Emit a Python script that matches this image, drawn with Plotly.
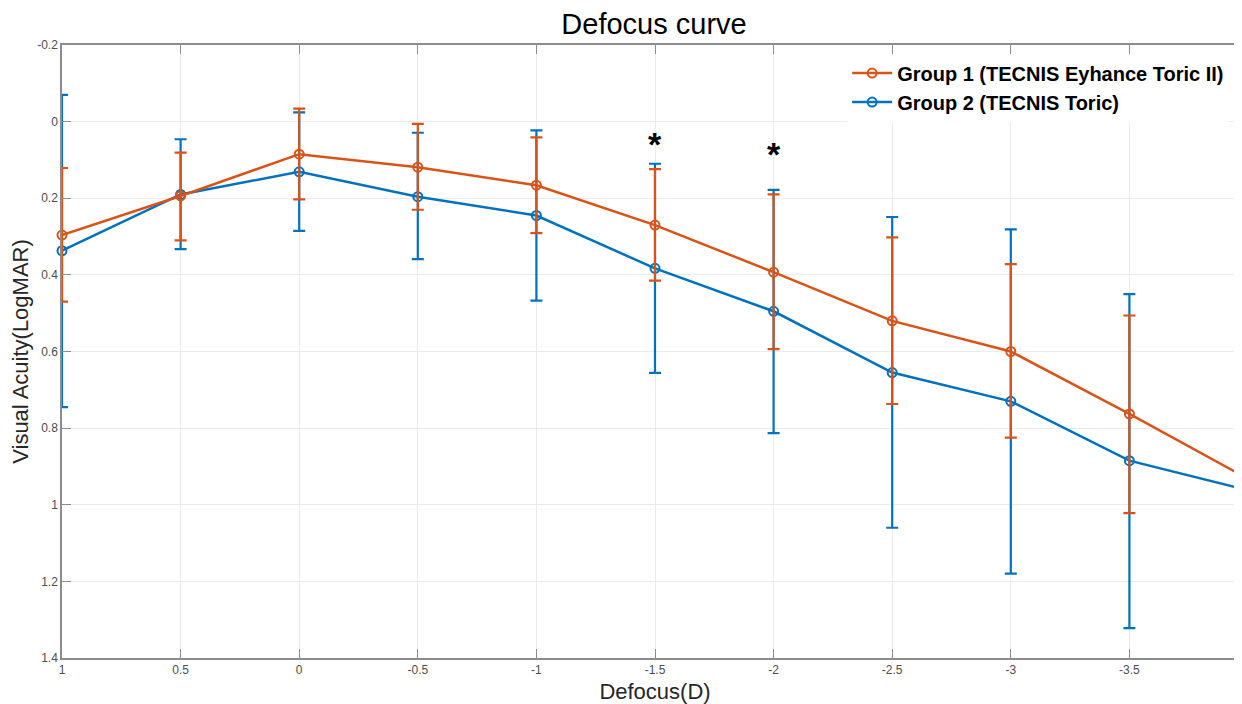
import plotly.graph_objects as go

# Data
defocus = [1, 0.5, 0, -0.5, -1, -1.5, -2, -2.5, -3, -3.5, -4]
g1_mean = [0.296, 0.194, 0.085, 0.119, 0.166, 0.270, 0.393, 0.520, 0.600, 0.763, 0.932]
g1_upper = [0.121, 0.081, -0.034, 0.006, 0.041, 0.124, 0.190, 0.302, 0.372, 0.506, 0.49]
g1_lower = [0.470, 0.310, 0.203, 0.230, 0.291, 0.415, 0.594, 0.737, 0.825, 1.022, 1.30]
g2_mean = [0.337, 0.190, 0.131, 0.196, 0.245, 0.383, 0.495, 0.655, 0.730, 0.885, 0.962]
g2_upper = [-0.070, 0.046, -0.024, 0.029, 0.023, 0.110, 0.178, 0.249, 0.281, 0.450, 0.30]
g2_lower = [0.745, 0.333, 0.285, 0.359, 0.467, 0.656, 0.813, 1.060, 1.180, 1.322, 1.335]

x_tickvals = [1, 0.5, 0, -0.5, -1, -1.5, -2, -2.5, -3, -3.5]
x_ticktext = ["1", "0.5", "0", "-0.5", "-1", "-1.5", "-2", "-2.5", "-3", "-3.5"]
y_tickvals = [-0.2, 0, 0.2, 0.4, 0.6, 0.8, 1.0, 1.2, 1.4]
y_ticktext = ["-0.2", "0", "0.2", "0.4", "0.6", "0.8", "1", "1.2", "1.4"]

sig_x = [-1.5, -2]
sig_y = [0.058, 0.084]

ORANGE = "#D95319"
BLUE = "#0072BD"
FONT = "Liberation Sans, Arial, sans-serif"


def err(mean, upper, lower):
    plus = [lo - m for m, lo in zip(mean, lower)]
    minus = [m - up for m, up in zip(mean, upper)]
    return plus, minus


fig = go.Figure()

for name, mean, up, lo, col, rank in [
    ("<b>Group 2 (TECNIS Toric)</b>", g2_mean, g2_upper, g2_lower, BLUE, 2),
    ("<b>Group 1 (TECNIS Eyhance Toric II)</b>", g1_mean, g1_upper, g1_lower, ORANGE, 1),
]:
    plus, minus = err(mean, up, lo)
    fig.add_trace(go.Scatter(
        x=defocus, y=mean, name=name, mode="lines+markers",
        line=dict(color=col, width=2.5),
        marker=dict(symbol="circle-open", size=9, color=col, line=dict(width=2, color=col)),
        error_y=dict(type="data", symmetric=False, array=plus, arrayminus=minus,
                     color=col, thickness=2.2, width=6),
        cliponaxis=False,
        legendrank=rank,
    ))

for sx, sy in zip(sig_x, sig_y):
    fig.add_annotation(x=sx, y=sy, text="<b>*</b>", showarrow=False,
                       font=dict(size=34, color="black", family=FONT))

axis_common = dict(
    showline=True, linecolor="#8c8c8c", linewidth=1.5, mirror="ticks",
    ticks="inside", ticklen=9, tickcolor="#8c8c8c", tickwidth=1.2,
    showgrid=True, gridcolor="#ebebeb", gridwidth=1, zeroline=False,
    tickfont=dict(size=12, color="#4d4d4d", family=FONT),
    automargin=False,
)

fig.update_xaxes(range=[1, -4], tickvals=x_tickvals, ticktext=x_ticktext,
                 title=dict(text="Defocus(D)", font=dict(size=22, color="#262626", family=FONT), standoff=11),
                 **axis_common)
fig.update_yaxes(range=[1.4, -0.2], tickvals=y_tickvals, ticktext=y_ticktext,
                 title=dict(text="Visual Acuity(LogMAR)", font=dict(size=22, color="#262626", family=FONT), standoff=8),
                 **axis_common)

fig.update_layout(
    width=1250, height=696,
    margin=dict(l=54, r=10, t=37, b=46),
    paper_bgcolor="white", plot_bgcolor="white",
    title=dict(text="Defocus curve", x=646 / 1250, xanchor="center", y=1 - 16 / 696, yanchor="middle",
               font=dict(size=29, color="black", family=FONT)),
    legend=dict(x=0.662, y=0.986, xanchor="left", yanchor="top",
                bgcolor="white", borderwidth=0,
                font=dict(size=20, color="black", family=FONT),
                itemwidth=40, tracegroupgap=0),
    showlegend=True,
    font=dict(family=FONT),
)

fig.write_html("out.html")
